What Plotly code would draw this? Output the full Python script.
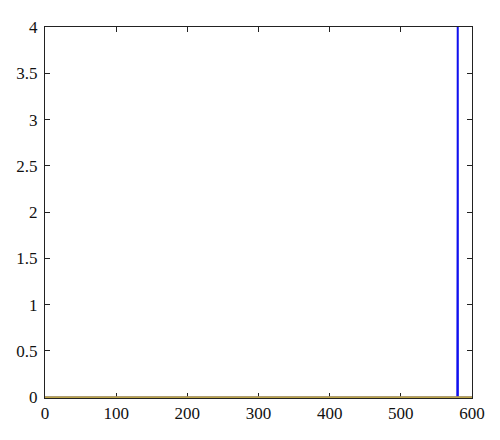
import plotly.graph_objects as go

# Data
blue_x = [0, 579, 579.5, 580, 580.5, 600]
blue_y = [0, 0, 2.2, 12.0, 0, 0]
orange_x = [0, 600]
orange_y = [0, 0]

x_ticks = [0, 100, 200, 300, 400, 500, 600]
y_ticks = [0, 0.5, 1, 1.5, 2, 2.5, 3, 3.5, 4]
y_labels = ["0", "0.5", "1", "1.5", "2", "2.5", "3", "3.5", "4"]

fig = go.Figure()
fig.add_trace(go.Scatter(x=blue_x, y=blue_y, mode="lines",
                         line=dict(color="#1010ee", width=1.5), showlegend=False))
fig.add_trace(go.Scatter(x=orange_x, y=orange_y, mode="lines",
                         line=dict(color="#bca548", width=2), showlegend=False))

axis_common = dict(showline=True, linecolor="#222", linewidth=1, mirror="ticks",
                   ticks="inside", ticklen=5, tickcolor="#222", showgrid=False,
                   zeroline=False, automargin=False,
                   tickfont=dict(family="Liberation Serif", size=17, color="#111"))

fig.update_xaxes(range=[0, 600], tickvals=x_ticks, layer="below traces", **axis_common)
fig.update_yaxes(range=[-0.008, 4], tickvals=y_ticks, ticktext=y_labels,
                 ticklabelstandoff=3, **axis_common)

fig.update_layout(width=500, height=440, margin=dict(l=37, r=36, t=19, b=50),
                  plot_bgcolor="white", paper_bgcolor="white")

fig.write_html("out.html")
